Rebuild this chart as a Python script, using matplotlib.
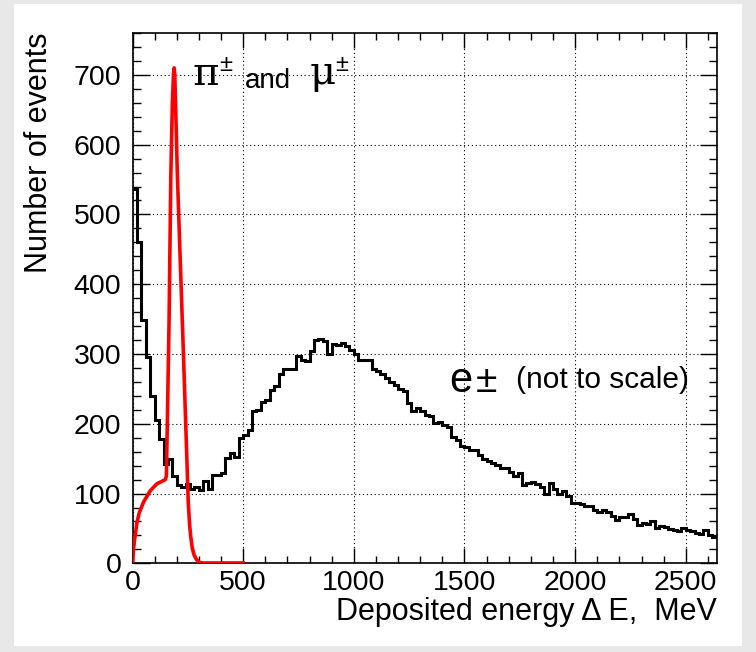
import numpy as np
import matplotlib
matplotlib.use("Agg")
import matplotlib.pyplot as plt
from matplotlib.patches import Rectangle
from matplotlib.ticker import MultipleLocator

plt.rcParams['font.family'] = ['Liberation Sans', 'DejaVu Sans']

# black histogram: e+- deposited energy, 20 MeV bins starting at 0
bin_width = 20
e_counts = [
    536, 461, 348, 296, 240, 206, 178, 143, 149, 125,
    112, 109, 113, 107, 110, 105, 118, 107, 126, 127,
    130, 151, 158, 153, 180, 184, 191, 219, 220, 231,
    234, 248, 254, 272, 279, 278, 279, 297, 291, 290,
    304, 320, 321, 319, 300, 314, 313, 316, 311, 306,
    300, 292, 292, 292, 278, 276, 272, 265, 260, 255,
    250, 247, 230, 219, 222, 218, 212, 211, 201, 203,
    198, 195, 181, 177, 168, 166, 163, 162, 155, 149,
    147, 144, 141, 136, 137, 131, 125, 129, 112, 115,
    117, 114, 110, 100, 115, 107, 99, 103, 96, 87,
    87, 85, 82, 82, 77, 74, 77, 74, 68, 62,
    66, 66, 70, 64, 55, 58, 57, 60, 51, 53,
    52, 49, 48, 47, 51, 48, 46, 43, 42, 48,
    41, 38,
]

# red curve: pi+- and mu+-
pi_mu_E = [0, 5, 11, 20, 30, 50, 80, 110, 130, 148, 153, 158, 165, 173,
           180, 185, 188, 191, 196, 202, 215, 230, 245, 252, 258, 263, 270,
           278, 290, 305, 320, 500]
pi_mu_N = [0, 22, 38, 58, 72, 88, 104, 114, 117, 120, 125, 215, 345, 555,
           660, 700, 710, 700, 640, 563, 440, 300, 155, 86, 55, 38, 22,
           12, 5, 1, 0.5, 0.5]

fig = plt.figure(figsize=(7.56, 6.52), dpi=100)
fig.patch.set_facecolor('#e8e8e8')
fig.patches.append(Rectangle((14 / 756, 6 / 652), 728 / 756, 642 / 652,
                             transform=fig.transFigure, facecolor='white',
                             edgecolor='none', zorder=-10))

ax = fig.add_axes([0.1753, 0.136, 0.7728, 0.8134])

edges = np.arange(len(e_counts) + 1) * bin_width
ax.stairs(e_counts, edges, color='black', lw=2.2, baseline=None, zorder=3)
ax.plot(pi_mu_E, pi_mu_N, color='red', lw=2.6, zorder=4)

ax.set_xlim(0, 2640)
ax.set_ylim(0, 760)
ax.xaxis.set_major_locator(MultipleLocator(500))
ax.xaxis.set_minor_locator(MultipleLocator(100))
ax.yaxis.set_major_locator(MultipleLocator(100))
ax.yaxis.set_minor_locator(MultipleLocator(20))

ax.tick_params(axis='both', which='both', direction='in', top=True, right=True,
               labelsize=20.5, width=1.0, colors='black')
ax.tick_params(axis='x', which='major', length=10.5, pad=5)
ax.tick_params(axis='x', which='minor', length=5.3)
ax.tick_params(axis='y', which='major', length=12, pad=8)
ax.tick_params(axis='y', which='minor', length=6)

for s in ax.spines.values():
    s.set_linewidth(1.2)

ax.grid(True, which='major', color='black', linestyle=(0, (1, 2.5)), lw=0.8)
ax.set_axisbelow(True)

ax.set_xlabel('Deposited energy \u0394 E,  MeV', fontsize=22, loc='right')
ax.xaxis.set_label_coords(1.0, -0.064)
ax.xaxis.label.set_va('top')
ax.set_ylabel('Number of events', fontsize=22, loc='top')
ax.yaxis.set_label_coords(-0.135, 1.0)

# labels
greek = ['DejaVu Serif', 'DejaVu Sans']
ax.text(271, 685, '\u03c0', fontsize=29, va='baseline', family=greek)
ax.text(394, 706, '\u00b1', fontsize=17, va='baseline')
ax.text(506, 681, 'and', fontsize=20, va='baseline')
ax.text(800, 687, '\u03bc', fontsize=29, va='baseline', family=greek)
ax.text(918, 706, '\u00b1', fontsize=17, va='baseline')
ax.text(1430, 245, 'e', fontsize=30, va='baseline')
ax.text(1550, 245, '\u00b1', fontsize=28, va='baseline')
ax.text(1732, 251, '(not to scale)', fontsize=21.5, va='baseline')

fig.savefig('out.png', dpi=100, facecolor=fig.get_facecolor())
